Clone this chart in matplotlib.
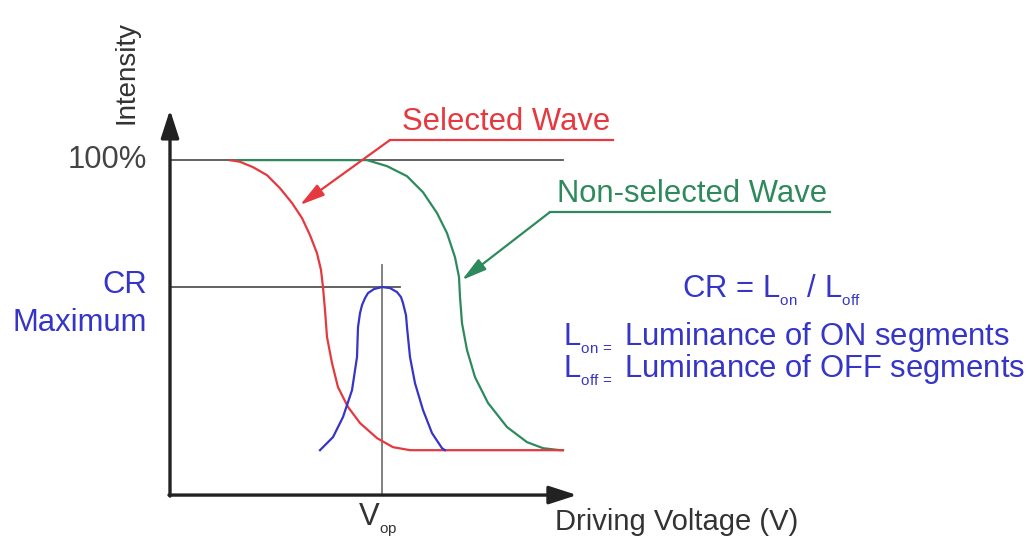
import matplotlib
matplotlib.use("Agg")
import matplotlib.pyplot as plt

plt.rcParams['font.family'] = ['Liberation Sans', 'DejaVu Sans']
plt.rcParams['mathtext.fontset'] = 'custom'
plt.rcParams['mathtext.rm'] = 'Liberation Sans'

# curve data (voltage in arbitrary units, intensity in %)
red_v = [6.0, 7.0, 8.3, 9.7, 11.0, 12.2, 13.2, 14.0, 14.7, 15.1, 15.3, 15.5,
         15.7, 16.2, 16.8, 17.8, 19.0, 20.7, 22.3, 24.0, 39.3]
red_i = [100.0, 99.5, 97.9, 95.5, 91.6, 87.2, 82.7, 77.6, 72.2, 67.2, 62.1,
         55.2, 47.2, 39.4, 32.2, 26.3, 21.5, 17.0, 14.3, 13.4, 13.4]

green_v = [6.0, 19.7, 21.7, 23.7, 25.3, 26.7, 27.7, 28.5, 28.9, 29.0, 29.2,
           29.7, 30.5, 31.8, 33.7, 35.7, 37.3, 39.0, 39.3]
green_i = [100, 100, 98.2, 95.2, 90.4, 84.2, 78.2, 71.0, 65.1, 59.1, 51.3,
           43.3, 35.2, 27.5, 20.3, 15.8, 14.0, 13.4, 13.4]

blue_v = [15.0, 16.3, 17.3, 18.2, 18.7, 18.8, 19.0, 19.2, 19.5, 19.8, 20.4,
          21.2, 22.0, 22.7, 23.1, 23.3, 23.6, 23.7, 24.0, 24.5, 25.3, 26.2,
          27.2, 27.5]
blue_i = [13.4, 17.3, 23.3, 31.3, 41.2, 50.1, 54.3, 56.7, 58.8, 60.3, 61.5,
          62.1, 61.8, 60.6, 59.1, 57.3, 53.7, 50.1, 41.2, 33.4, 25.4, 18.5,
          14.0, 13.4]

full_level = 100
cr_max = 62.1
v_op = 21.2

RED = '#e5383f'
GREEN = '#2e8a5c'
BLUE = '#3535c8'
DARK = '#222222'
GRAY = '#555555'

fig = plt.figure(figsize=(10.35, 5.5), dpi=100)
ax = fig.add_axes([0, 0, 1, 1])
ax.set_xlim(-17, 86.5)
ax.set_ylim(-16.4, 147.8)
ax.axis('off')

# axes with arrows
arrow = dict(arrowstyle='-|>,head_length=1.7,head_width=0.55', lw=2.4,
             color=DARK, shrinkA=0, shrinkB=0)
ax.annotate('', xy=(40.7, 0), xytext=(-0.1, 0), arrowprops=arrow)
ax.annotate('', xy=(0, 115), xytext=(0, -0.3), arrowprops=arrow)

# reference lines
ax.plot([0, 39.3], [full_level, full_level], color=GRAY, lw=1.3)
ax.plot([0, 23.0], [cr_max, cr_max], color=GRAY, lw=1.3)
ax.plot([v_op, v_op], [0, 68.7], color='#777777', lw=1.3)

# curves
ax.plot(green_v, green_i, color=GREEN, lw=1.6, solid_joinstyle='round')
ax.plot(red_v, red_i, color=RED, lw=1.6, solid_joinstyle='round')
ax.plot(blue_v, blue_i, color=BLUE, lw=1.6, solid_joinstyle='round')

# callouts
head = '-|>,head_length=1.5,head_width=0.4'
ax.plot([44.3, 22.0], [106, 106], color=RED, lw=1.6)
ax.annotate('', xy=(13.0, 86.6), xytext=(22.0, 106),
            arrowprops=dict(arrowstyle=head, lw=1.6, color=RED,
                            shrinkA=0, shrinkB=0))
ax.plot([66.0, 38.0], [84.5, 84.5], color=GREEN, lw=1.6)
ax.annotate('', xy=(29.2, 64.2), xytext=(38.0, 84.5),
            arrowprops=dict(arrowstyle=head, lw=1.6, color=GREEN,
                            shrinkA=0, shrinkB=0))

fs = 22.3
ax.text(23.2, 111.5, 'Selected Wave', color=RED, fontsize=fs, va='center')
ax.text(38.7, 90.0, 'Non-selected Wave', color=GREEN, fontsize=fs, va='center')

ax.text(-4.3, 126.3, 'Intensity', color='#333333', fontsize=20, rotation=90,
        ha='center', va='center')
ax.text(-2.3, 100, '100%', color='#444444', fontsize=fs, ha='right', va='center')
ax.text(-2.3, 62.7, 'CR', color=BLUE, fontsize=fs, ha='right', va='center')
ax.text(-2.3, 51.3, 'Maximum', color=BLUE, fontsize=fs, ha='right', va='center')

sub_on = r'$\mathregular{L}_{{}_{\mathregular{on}}}$'
sub_off = r'$\mathregular{L}_{{}_{\mathregular{off}}}$'
ax.text(51.2, 61.2, 'CR = ' + sub_on + ' / ' + sub_off,
        color=BLUE, fontsize=fs, va='center')
ax.text(39.3, 46.9, sub_on + r'$_{{}_{=}}$ Luminance of ON segments',
        color=BLUE, fontsize=fs, va='center')
ax.text(39.3, 37.3, sub_off + r'$_{{}_{=}}$ Luminance of OFF segments',
        color=BLUE, fontsize=fs, va='center')

ax.text(18.8, -7.5, r'V$_{{}_{\mathregular{op}}}$', color='#333333',
        fontsize=fs, ha='left', va='center')
ax.text(38.5, -8.1, 'Driving Voltage (V)', color='#333333', fontsize=21,
        va='center')

fig.savefig('out.png', dpi=100)
